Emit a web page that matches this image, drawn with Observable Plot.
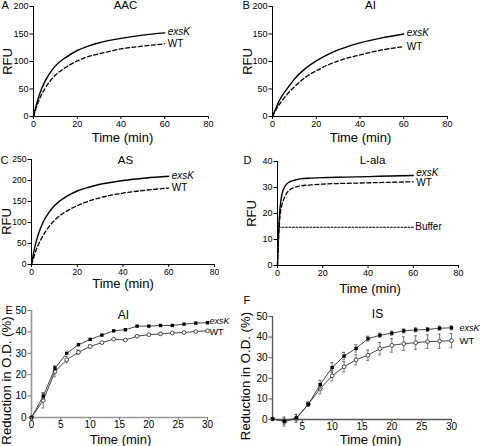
<!DOCTYPE html>
<html><head><meta charset="utf-8">
<script src="https://cdn.jsdelivr.net/npm/d3@7"></script>
<script src="https://cdn.jsdelivr.net/npm/@observablehq/plot@0.6"></script>
<style>
body{margin:0;background:#fff;}
#fig{position:relative;width:480px;height:446px;overflow:hidden;background:#fff;font-family:'Liberation Sans',Arial,sans-serif;}
#fig svg{position:absolute;overflow:visible;font-family:'Liberation Sans',Arial,sans-serif;}
</style></head><body><div id="fig"></div>
<script>
// ---------- data ----------
const timeABC = [0, 1, 2, 3, 5, 7.5, 10, 15, 20, 25, 30, 40, 50, 60];
const aacExsK = [0, 17, 31, 43, 62, 79, 92, 108, 120, 128, 134, 142, 148, 152];
const aacWT   = [0, 13, 24, 34, 49, 64, 75, 90, 101, 109, 114, 123, 128, 132];
const aiExsK  = [0, 10, 19, 28, 41, 55, 68, 87, 101, 112, 121, 134, 143, 150];
const aiWT    = [0, 8, 15, 21, 32, 44, 54, 71, 83, 93, 101, 112, 121, 127];
const asExsK  = [0, 30, 54, 72, 100, 123, 140, 161, 175, 184, 191, 200, 206, 210];
const asWT    = [0, 18, 34, 47, 68, 89, 105, 126, 140, 151, 159, 170, 177, 182];

const timeD    = [0, 0.3, 0.7, 1, 1.5, 2, 3, 4, 5, 7.5, 10, 15, 20, 30, 40, 50, 60];
const alaExsK  = [0, 9, 17, 21, 25, 27.5, 30, 31.3, 32, 32.8, 33.3, 33.6, 33.8, 34, 34.2, 34.4, 34.6];
const alaWT    = [0, 7, 14, 18, 21.5, 23.5, 26, 27.7, 28.8, 30, 30.6, 31, 31.3, 31.6, 31.8, 32, 32.2];
const bufferTime  = [0.4, 60];
const bufferLevel = [14.7, 14.7];

const timeEF   = [0, 2, 4, 6, 8, 10, 12, 14, 16, 18, 20, 22, 24, 26, 28, 30];
const eExsK    = [0, 10, 23, 30, 34, 36.5, 38.5, 40.5, 41, 42.7, 42.7, 43, 43, 43.6, 44.1, 44.3];
const eExsKErr = [0, 1.5, 1, 0.5, 0.5, 0.5, 0.5, 0.5, 0.5, 0.5, 0.5, 0.5, 0.5, 0.5, 0.5, 0.5];
const eWT      = [0, 8, 21.5, 27, 30.5, 33.2, 35, 36.6, 36.2, 38, 38.7, 39.1, 39.5, 39.7, 40.2, 40.5];
const eWTErr   = [0, 3.5, 2.5, 1.5, 1, 0.7, 0.6, 0.5, 0.5, 0.5, 0.5, 0.5, 0.5, 0.5, 0.5, 0.5];
const fExsK    = [0.3, -0.8, 0.8, 7.3, 17, 25.2, 30.8, 34.5, 39.2, 40.9, 41.9, 43, 43.5, 43.7, 44.3, 44.5];
const fExsKErr = [0.5, 1.5, 1.5, 1, 2, 2.4, 1.8, 1.8, 1.2, 1, 1, 1, 1, 1, 1, 1];
const fWT      = [0.3, -1, 0.5, 7.5, 15, 21.2, 25.6, 29, 31.2, 34.4, 36, 36.8, 37.3, 37.8, 38, 38.3];
const fWTErr   = [0.5, 2.2, 2, 1, 2.5, 2.5, 2.5, 2.5, 2.5, 3, 3.3, 3.3, 3.3, 3.3, 3.5, 3.5];

// tick labels
const ticksX80  = [0, 20, 40, 60, 80];
const ticksY200 = [0, 50, 100, 150, 200];
const ticksY250 = [0, 50, 100, 150, 200, 250];
const ticksY40  = [0, 10, 20, 30, 40];
const ticksX30  = [0, 5, 10, 15, 20, 25, 30];
const ticksX30F = [5, 10, 15, 20, 25, 30];
const ticksY50  = [0, 10, 20, 30, 40, 50];

// ---------- helpers ----------
const fig = document.getElementById("fig");
const baseStyle = {"font-family": "'Liberation Sans', Arial, sans-serif", "background": "transparent", "overflow": "visible", "color": "black"};
function place(svg, left, top) { svg.style.left = left + "px"; svg.style.top = top + "px"; fig.appendChild(svg); }
function label(txt, anchor, dx, dy, opts = {}) {
  return Plot.text([txt], {text: d => d, frameAnchor: anchor, dx, dy, textAnchor: "middle", lineAnchor: "middle", fill: "black", ...opts});
}
function rows(t, v, e) { return t.map((x, i) => ({t: x, v: v[i], e: e ? e[i] : 0})); }
function endLabel(data, txt, opts = {}) {
  return Plot.text([data[data.length - 1]], {x: "t", y: "v", text: () => txt, dx: 3, textAnchor: "start", lineAnchor: "middle", fontSize: 10, fill: "black", ...opts});
}
function curves(t, ex, wt, exDy = -1, wtDy = 0) {
  const dEx = rows(t, ex), dWt = rows(t, wt);
  return [
    Plot.line(dWt, {x: "t", y: "v", curve: "monotone-x", stroke: "black", strokeWidth: 1.3, strokeDasharray: "4,2.5"}),
    Plot.line(dEx, {x: "t", y: "v", curve: "monotone-x", stroke: "black", strokeWidth: 1.4}),
    endLabel(dEx, "exsK", {fontStyle: "italic", dy: exDy}),
    endLabel(dWt, "WT", {dy: wtDy})
  ];
}
function axes(xt, yt, fs, stroke = "black", pad = 1) {
  return [
    Plot.axisX({ticks: xt, tickSize: 3, tickPadding: pad, fontSize: fs, label: null, stroke, tickFormat: d => String(d)}),
    Plot.axisY({ticks: yt, tickSize: 3.5, tickPadding: 1.5, fontSize: fs, label: null, stroke, tickFormat: d => String(d)})
  ];
}
function points(t, v, e, filled) {
  const d = rows(t, v, e);
  const de = d.filter(r => r.e > 0.6);
  return [
    Plot.ruleX(de, {x: "t", y1: r => r.v - r.e, y2: r => r.v + r.e, stroke: "#555", strokeWidth: 0.8}),
    Plot.ruleY(de, {y: r => r.v + r.e, x1: r => r.t - 0.25, x2: r => r.t + 0.25, stroke: "#555", strokeWidth: 0.8}),
    Plot.ruleY(de, {y: r => r.v - r.e, x1: r => r.t - 0.25, x2: r => r.t + 0.25, stroke: "#555", strokeWidth: 0.8}),
    Plot.line(d, {x: "t", y: "v", stroke: "#444", strokeWidth: 1}),
    filled
      ? Plot.dot(d, {x: "t", y: "v", symbol: "square", r: 1.9, fill: "black", stroke: "none"})
      : Plot.dot(d, {x: "t", y: "v", symbol: "circle", r: 1.9, fill: "white", stroke: "#333", strokeWidth: 0.9})
  ];
}

// ---------- Panel A ----------
place(Plot.plot({
  width: 240, height: 145, marginLeft: 33, marginRight: 32, marginTop: 6, marginBottom: 29,
  x: {domain: [0, 80]}, y: {domain: [0, 200]}, style: baseStyle,
  marks: [
    ...curves(timeABC, aacExsK, aacWT),
    ...axes(ticksX80, ticksY200, 9),
    Plot.ruleX([0], {stroke: "black"}), Plot.ruleY([0], {stroke: "black"}),
    label("AAC", "top-left", 92, -1, {fontSize: 11.5}),
    label("A", "top-left", -32, -1, {fontSize: 11, textAnchor: "start"}),
    label("RFU", "left", -25.5, 0, {fontSize: 13, rotate: -90}),
    label("Time (min)", "bottom-left", 89, 21, {fontSize: 13})
  ]
}), 0, 0);

// ---------- Panel B ----------
place(Plot.plot({
  width: 240, height: 145, marginLeft: 32, marginRight: 33, marginTop: 6, marginBottom: 29,
  x: {domain: [0, 80]}, y: {domain: [0, 200]}, style: baseStyle,
  marks: [
    ...curves(timeABC, aiExsK, aiWT),
    ...axes(ticksX80, ticksY200, 9),
    Plot.ruleX([0], {stroke: "black"}), Plot.ruleY([0], {stroke: "black"}),
    label("AI", "top-left", 98, -1, {fontSize: 11.5}),
    label("B", "top-left", -30, -1, {fontSize: 11, textAnchor: "start"}),
    label("RFU", "left", -24.5, 0, {fontSize: 13, rotate: -90}),
    label("Time (min)", "bottom-left", 88, 21, {fontSize: 13})
  ]
}), 240, 0);

// ---------- Panel C ----------
place(Plot.plot({
  width: 240, height: 150, marginLeft: 31, marginRight: 26, marginTop: 14, marginBottom: 31,
  x: {domain: [0, 80]}, y: {domain: [0, 250]}, style: baseStyle,
  marks: [
    ...curves(timeABC, asExsK, asWT),
    ...axes(ticksX80, ticksY250, 8.5),
    Plot.ruleX([0], {stroke: "black"}), Plot.ruleY([0], {stroke: "black"}),
    label("AS", "top-left", 94, 1, {fontSize: 11.5}),
    label("C", "top-left", -31, 1, {fontSize: 11, textAnchor: "start"}),
    label("RFU", "left", -25, 9.5, {fontSize: 13, rotate: -90}),
    label("Time (min)", "bottom-left", 91.5, 19, {fontSize: 13})
  ]
}), 0, 145);

// ---------- Panel D ----------
const dBuf = rows(bufferTime, bufferLevel);
place(Plot.plot({
  width: 240, height: 150, marginLeft: 37, marginRight: 22, marginTop: 16, marginBottom: 30,
  x: {domain: [0, 80]}, y: {domain: [0, 40]}, style: baseStyle,
  marks: [
    Plot.line(dBuf, {x: "t", y: "v", stroke: "black", strokeWidth: 1, strokeDasharray: "2,1.5"}),
    endLabel(dBuf, "Buffer", {dx: 2}),
    ...curves(timeD, alaExsK, alaWT, -2.5, 1),
    ...axes(ticksX80, ticksY40, 9),
    Plot.ruleX([0], {stroke: "black"}), Plot.ruleY([0], {stroke: "black"}),
    label("L-ala", "top-left", 95, -1, {fontSize: 11.5}),
    label("D", "top-left", -34, -1, {fontSize: 11, textAnchor: "start"}),
    label("RFU", "left", -26, 0, {fontSize: 13, rotate: -90}),
    label("Time (min)", "bottom-left", 92.5, 23, {fontSize: 13})
  ]
}), 240, 145);

// ---------- Panel E ----------
const dEex = rows(timeEF, eExsK), dEwt = rows(timeEF, eWT);
place(Plot.plot({
  width: 240, height: 151, marginLeft: 31, marginRight: 33, marginTop: 15, marginBottom: 29,
  x: {domain: [0, 30]}, y: {domain: [0, 50]}, style: baseStyle,
  marks: [
    Plot.ruleX([0], {stroke: "#999", strokeWidth: 1.6}), Plot.ruleY([0], {stroke: "#999", strokeWidth: 1.6}),
    ...points(timeEF, eWT, eWTErr, false),
    ...points(timeEF, eExsK, eExsKErr, true),
    endLabel(dEex, "exsK", {fontStyle: "italic", dx: 2, dy: -2, fontSize: 9}),
    endLabel(dEwt, "WT", {dx: 2, dy: 1, fontSize: 9}),
    ...axes(ticksX30, ticksY50, 10, "#777", 0),
    label("AI", "top-left", 92, 5, {fontSize: 12}),
    label("E", "top-left", -26, 0, {fontSize: 11, textAnchor: "start"}),
    label("Reduction in O.D. (%)", "left", -24.5, 16.5, {fontSize: 13.2, rotate: -90}),
    label("Time (min)", "bottom-left", 89, 22, {fontSize: 13})
  ]
}), 0, 295);

// ---------- Panel F ----------
const dFex = rows(timeEF, fExsK), dFwt = rows(timeEF, fWT);
place(Plot.plot({
  width: 240, height: 151, marginLeft: 32, marginRight: 29, marginTop: 21, marginBottom: 27,
  x: {domain: [0, 30]}, y: {domain: [0, 50]}, style: baseStyle,
  marks: [
    Plot.ruleX([0], {stroke: "#555", strokeWidth: 1.3}), Plot.ruleY([0], {stroke: "#555", strokeWidth: 1.3}),
    ...points(timeEF, fWT, fWTErr, false),
    ...points(timeEF, fExsK, fExsKErr, true),
    endLabel(dFex, "exsK", {fontStyle: "italic", dx: 8, dy: 0, fontSize: 9}),
    endLabel(dFwt, "WT", {dx: 8, fontSize: 9.5}),
    ...axes(ticksX30F, ticksY50, 10, "#555", 0),
    label("IS", "top-left", 105, -2, {fontSize: 12}),
    label("F", "top-left", -29, -16, {fontSize: 11, textAnchor: "start"}),
    label("Reduction in O.D. (%)", "left", -26.5, 8, {fontSize: 13.2, rotate: -90}),
    label("Time (min)", "bottom-left", 98, 20, {fontSize: 13})
  ]
}), 240, 295);
</script>
</body></html>
